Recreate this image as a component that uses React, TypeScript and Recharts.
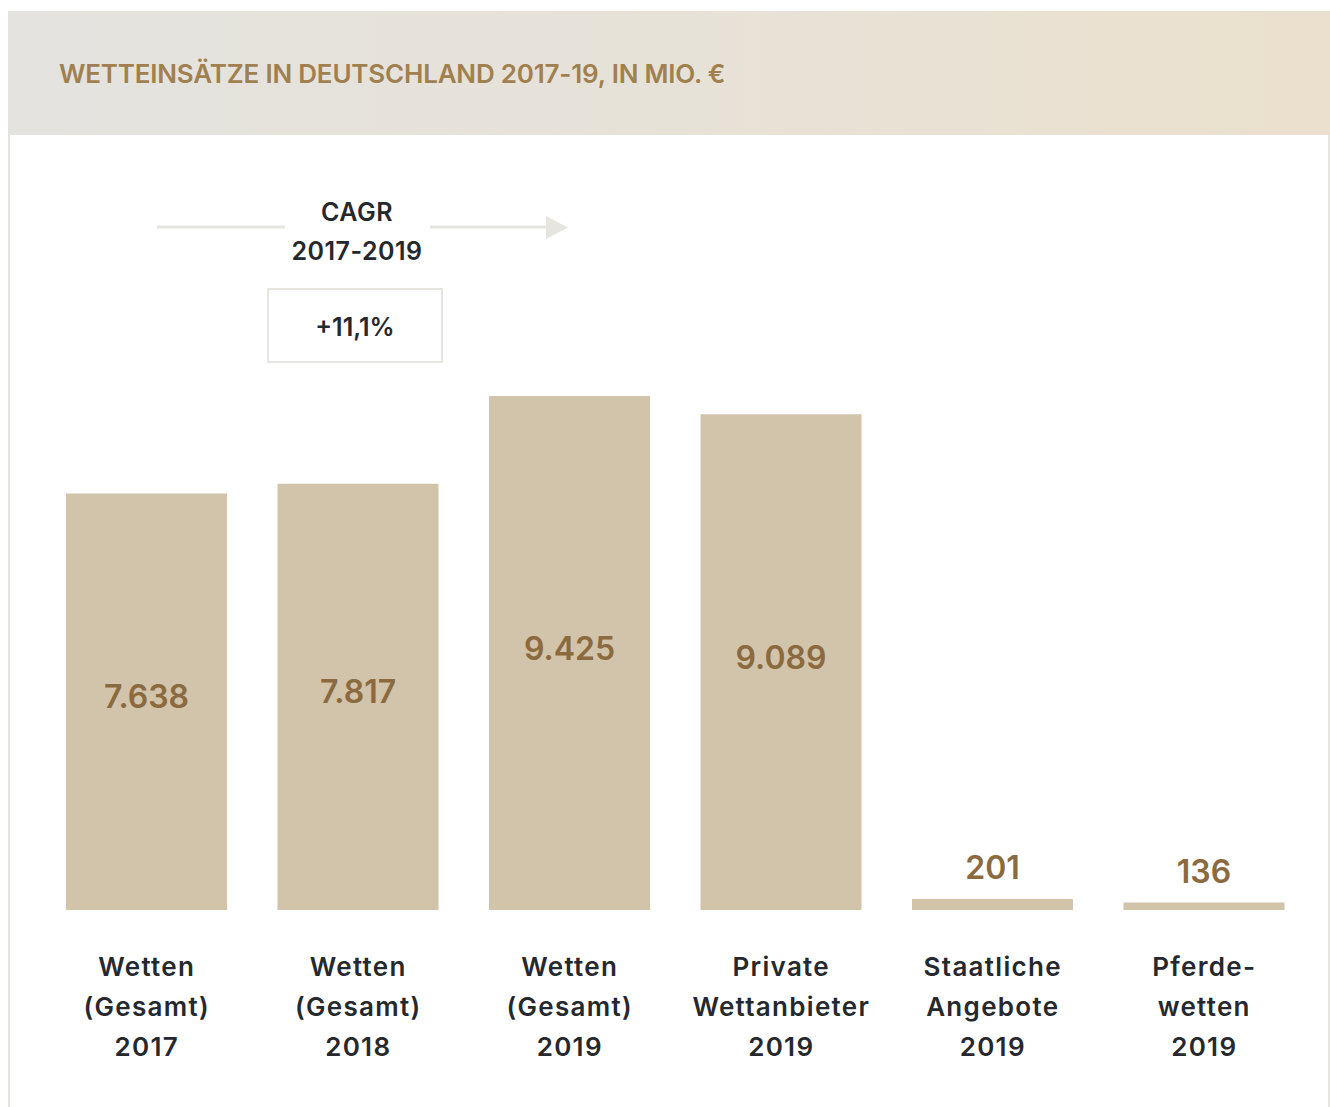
import { BarChart, Bar, XAxis, YAxis, LabelList } from 'recharts'

const categories = [
  'Wetten\n(Gesamt)\n2017',
  'Wetten\n(Gesamt)\n2018',
  'Wetten\n(Gesamt)\n2019',
  'Private\nWettanbieter\n2019',
  'Staatliche\nAngebote\n2019',
  'Pferde-\nwetten\n2019',
]
const einsaetze = [7638, 7817, 9425, 9089, 201, 136]

const title = 'WETTEINSÄTZE IN DEUTSCHLAND 2017-19, IN MIO. €'
const cagrLines = ['CAGR', '2017-2019']
const cagrValue = '+11,1%'

const font = "Inter, 'Noto Sans', sans-serif"
const barColor = '#d2c3ab'
const valueColor = '#8a6a3e'
const textColor = '#25282c'
const lineColor = '#e6e5e0'

const chartData = categories.map((c, i) => ({ kategorie: c, wert: einsaetze[i] }))

// 7638 -> "7.638"
const fmt = (v: number) => String(v).replace(/\B(?=(\d{3})+(?!\d))/g, '.')

function CategoryTick({ x, y, payload }: any) {
  const lines = String(payload.value).split('\n')
  return (
    <text x={x} y={y} textAnchor="middle" fill={textColor} fontSize={26} fontWeight={600} fontFamily={font} letterSpacing={1.3}>
      {lines.map((l, i) => (
        <tspan key={i} x={x} y={y + 66 + i * 40}>
          {l}
        </tspan>
      ))}
    </text>
  )
}

function ValueLabel(props: any) {
  const { x, y, width, height, value } = props
  const inside = height > 60
  return (
    <text
      x={x + width / 2}
      y={inside ? y + height / 2 - 5 : y - 20}
      dominantBaseline={inside ? 'central' : 'alphabetic'}
      textAnchor="middle"
      fill={valueColor}
      fontSize={32}
      fontWeight={600}
      fontFamily={font}
    >
      {fmt(value)}
    </text>
  )
}

export default function App() {
  // fixed so the card never makes the page scroll
  return (
    <div style={{ position: 'fixed', left: 8, top: 11, width: 1322, height: 1096, fontFamily: font }}>
      <div
        style={{
          height: 124,
          display: 'flex',
          alignItems: 'center',
          paddingLeft: 51,
          background: 'linear-gradient(90deg, #e4e3df 0%, #e7e2d8 50%, #ebe0cd 100%)',
          color: '#a0804f',
          fontSize: 26,
          fontWeight: 600,
          letterSpacing: -0.2,
        }}
      >
        {title}
      </div>
      <div
        style={{
          height: 972,
          boxSizing: 'border-box',
          borderLeft: `2px solid ${lineColor}`,
          borderRight: `2px solid ${lineColor}`,
          background: '#fff',
        }}
      />
      <div style={{ position: 'absolute', left: 0, top: 124 }}>
        <BarChart width={1322} height={972} data={chartData} margin={{ top: 261, right: 20, bottom: 0, left: 33 }}>
          <XAxis
            dataKey="kategorie"
            axisLine={false}
            tickLine={false}
            tickSize={0}
            tickMargin={0}
            height={197}
            interval={0}
            tick={<CategoryTick />}
          />
          <YAxis hide domain={[0, 'dataMax']} />
          <Bar dataKey="wert" fill={barColor} barSize={161} isAnimationActive={false}>
            <LabelList dataKey="wert" content={<ValueLabel />} />
          </Bar>
        </BarChart>
      </div>
      <svg width={1322} height={400} style={{ position: 'absolute', left: 0, top: 0, pointerEvents: 'none' }}>
        <line x1={149} y1={216} x2={277} y2={216} stroke={lineColor} strokeWidth={3} />
        <line x1={422} y1={216} x2={540} y2={216} stroke={lineColor} strokeWidth={3} />
        <polygon points="538,205 560,216.5 538,228" fill={lineColor} />
        <text textAnchor="middle" fill={textColor} fontSize={25} fontWeight={600} fontFamily={font} letterSpacing={0.5}>
          <tspan x={349} y={210}>{cagrLines[0]}</tspan>
          <tspan x={349} y={249}>{cagrLines[1]}</tspan>
        </text>
        <rect x={260} y={278} width={174} height={73} fill="#fff" stroke={lineColor} strokeWidth={2} />
        <text x={347} y={325} textAnchor="middle" fill={textColor} fontSize={25} fontWeight={600} fontFamily={font}>
          {cagrValue}
        </text>
      </svg>
    </div>
  )
}
